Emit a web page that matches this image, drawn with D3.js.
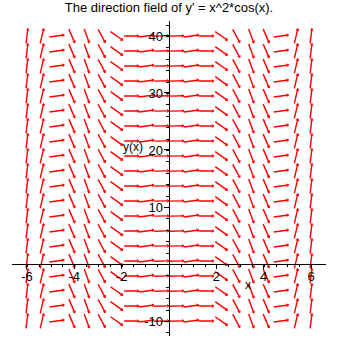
<!DOCTYPE html>
<html>
<head>
<meta charset="utf-8">
<script src="https://cdn.jsdelivr.net/npm/d3@7"></script>
<style>
  body { margin: 0; background: #fff; }
  text { font-family: "Liberation Sans", Arial, sans-serif; }
</style>
</head>
<body>
<div id="chart"></div>
<script>
// grid of the direction field (x = -6..6, y = -10..40, 20 x 20 points)
const xGrid = [-6, -5.368, -4.737, -4.105, -3.474, -2.842, -2.211, -1.579, -0.947, -0.316,
               0.316, 0.947, 1.579, 2.211, 2.842, 3.474, 4.105, 4.737, 5.368, 6];
const yGrid = [-10, -7.368, -4.737, -2.105, 0.526, 3.158, 5.789, 8.421, 11.053, 13.684,
               16.316, 18.947, 21.579, 24.211, 26.842, 29.474, 32.105, 34.737, 37.368, 40];
// slope y' = x^2*cos(x) for each column (does not depend on y)
const colSlopes = [34.57, 17.58, 0.549, -9.62, -11.41, -7.72, -2.915, -0.020, 0.525, 0.095,
                   0.095, 0.525, -0.020, -2.915, -7.72, -11.41, -9.62, 0.549, 17.58, 34.57];

const xTickLabels = [-6, -4, -2, 2, 4, 6];
const yTickLabels = [-10, 10, 20, 30, 40];
const titleText = "The direction field of y' = x^2*cos(x).";

const width = 339, height = 339;

const svg = d3.select("#chart").append("svg")
    .attr("width", width)
    .attr("height", height);

svg.append("rect").attr("width", width).attr("height", height).attr("fill", "#fff");

const x = d3.scaleLinear().domain([-6.632, 6.632]).range([12, 326]);
const y = d3.scaleLinear().domain([-12.63, 42.63]).range([336, 21]);

// arrows
let arrows = [];
xGrid.forEach((xv, i) => {
    yGrid.forEach((yv) => {
        arrows.push({x: xv, y: yv, s: colSlopes[i]});
    });
});

const len = 15;
const headLen = 2.5;
const g = svg.append("g").attr("class", "field");

arrows.forEach((d) => {
    let cx = x(d.x), cy = y(d.y);
    let dx = x(1) - x(0);
    let dy = y(d.s) - y(0);
    let n = Math.sqrt(dx*dx + dy*dy);
    let ux = dx/n, uy = dy/n;
    let x1 = cx - ux*len/2, y1 = cy - uy*len/2;
    let x2 = cx + ux*len/2, y2 = cy + uy*len/2;
    g.append("line")
        .attr("x1", x1).attr("y1", y1)
        .attr("x2", x2).attr("y2", y2)
        .attr("stroke", "#ff0000")
        .attr("stroke-width", 1.4);
    // small head
    let a = 0.6;
    let hx1 = x2 - headLen*(ux*Math.cos(a) - uy*Math.sin(a));
    let hy1 = y2 - headLen*(uy*Math.cos(a) + ux*Math.sin(a));
    let hx2 = x2 - headLen*(ux*Math.cos(a) + uy*Math.sin(a));
    let hy2 = y2 - headLen*(uy*Math.cos(a) - ux*Math.sin(a));
    g.append("path")
        .attr("d", `M${hx1},${hy1}L${x2},${y2}L${hx2},${hy2}`)
        .attr("fill", "none")
        .attr("stroke", "#ff0000")
        .attr("stroke-width", 1);
});

// axes
const xAxis = d3.axisBottom(x)
    .tickValues(d3.range(-6, 6.01, 0.5).filter((v) => v !== 0))
    .tickSize(3)
    .tickFormat("");
const yAxis = d3.axisLeft(y)
    .tickValues(d3.range(-12, 42.1, 2).filter((v) => v !== 0))
    .tickSize(3)
    .tickFormat("");

const gx = svg.append("g").attr("transform", `translate(0,${y(0)})`).call(xAxis);
const gy = svg.append("g").attr("transform", `translate(${x(0)},0)`).call(yAxis);
gx.select(".domain").attr("d", `M${x.range()[0]},0.5H${x.range()[1]}`);
gy.select(".domain").attr("d", `M0.5,${y.range()[1]}V${y.range()[0]}`);
svg.selectAll(".domain, .tick line").attr("stroke", "#000").attr("shape-rendering", "crispEdges");

// major ticks
svg.append("g").selectAll("line").data(xTickLabels).enter().append("line")
    .attr("x1", (d) => x(d)).attr("x2", (d) => x(d))
    .attr("y1", y(0)).attr("y2", y(0) + 5)
    .attr("stroke", "#000").attr("shape-rendering", "crispEdges");
svg.append("g").selectAll("line").data(yTickLabels).enter().append("line")
    .attr("x1", x(0) - 5).attr("x2", x(0))
    .attr("y1", (d) => y(d)).attr("y2", (d) => y(d))
    .attr("stroke", "#000").attr("shape-rendering", "crispEdges");

// tick labels
svg.append("g").selectAll("text").data(xTickLabels).enter().append("text")
    .attr("x", (d) => x(d))
    .attr("y", y(0) + 17)
    .attr("text-anchor", "middle")
    .attr("font-size", 13)
    .text((d) => d);
svg.append("g").selectAll("text").data(yTickLabels).enter().append("text")
    .attr("x", x(0) - 6)
    .attr("y", (d) => y(d) + 5)
    .attr("text-anchor", "end")
    .attr("font-size", 13)
    .text((d) => d);

// axis titles
svg.append("text").attr("x", 245).attr("y", 289).attr("font-size", 12).text("x");
svg.append("text").attr("x", 123).attr("y", 151).attr("font-size", 12).text("y(x)");

// title
svg.append("text")
    .attr("x", 169).attr("y", 12)
    .attr("text-anchor", "middle")
    .attr("font-size", 13)
    .text(titleText);
</script>
</body>
</html>
